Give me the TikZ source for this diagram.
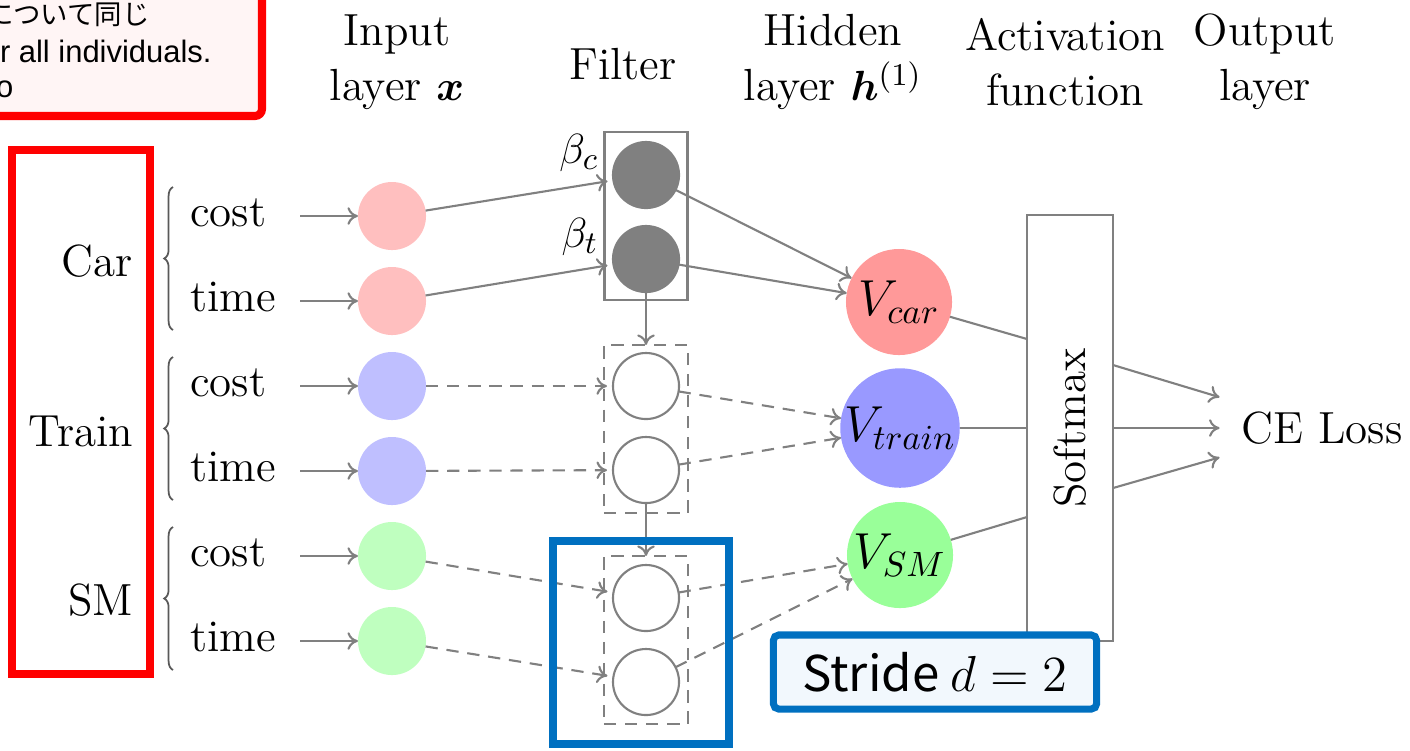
\documentclass[tikz,border=0pt]{standalone}
\usepackage{amsmath}
\usepackage{bm}
\usepackage{fontspec}
\usetikzlibrary{arrows.meta,decorations.pathreplacing,calc}
\newfontfamily\jpfont{Noto Sans CJK JP}
\newfontfamily\arialfont{Liberation Sans}
\definecolor{lnk}{HTML}{808080}
\definecolor{pptblue}{HTML}{0070C0}
\definecolor{notefill}{HTML}{FFF5F5}
\definecolor{stridefill}{HTML}{F2F8FD}
\begin{document}
\begin{tikzpicture}[x=0.01cm,y=-0.01cm,
  every node/.style={inner sep=0pt, outer sep=0pt},
  ttl/.style={font=\fontsize{12.8}{15.7}\selectfont, align=center},
  lbl/.style={font=\fontsize{12.8}{14}\selectfont},
  incirc/.style={circle, minimum size=0.68cm},
  fcirc/.style={circle, minimum size=0.66cm, draw=lnk, line width=0.6pt},
  vcirc/.style={circle, font=\fontsize{14}{16}\selectfont},
  conn/.style={draw=lnk, line width=0.6pt},
  arr/.style={conn, -{Computer Modern Rightarrow[length=3pt,width=5pt]}},
  darr/.style={arr, dash pattern=on 3.5pt off 2.5pt},
  dbox/.style={draw=lnk, line width=0.6pt, dash pattern=on 3.5pt off 2.5pt, minimum width=0.84cm, minimum height=1.68cm},
  grp/.style={decorate, decoration={brace, amplitude=2.5pt}, draw=black!65, line width=0.5pt},
]
\clip (0,0) rectangle (1410,750);

% note box (cropped)
\node[draw=red, fill=notefill, line width=2.3pt, rounded corners=2pt, minimum width=3.4cm, minimum height=1.8cm, anchor=south east] (note) at (262,116) {};
\node[anchor=west, font=\jpfont\fontsize{7.8}{9}\selectfont] (n1) at (-14,15) {について同じ};
\node[anchor=west, font=\arialfont\fontsize{8.8}{10}\selectfont] (n2) at (0,51) {r all individuals.};
\node[anchor=west, font=\arialfont\fontsize{8.8}{10}\selectfont] (n3) at (-4,89) {o};

% headers
\node[ttl] (hin) at (397,62) {Input\\layer $\bm{x}$};
\node[ttl] (hfil) at (623,64) {Filter};
\node[ttl] (hhid) at (833,62) {Hidden\\layer $\bm{h}^{(1)}$};
\node[ttl] (hact) at (1065,62) {Activation\\function};
\node[ttl] (hout) at (1265,62) {Output\\layer};

% group box and labels
\node[draw=red, line width=2.3pt, minimum width=1.375cm, minimum height=5.24cm] (grpbox) at (81,412) {};
\node[lbl, anchor=east] (lcar) at (133,261) {Car};
\node[lbl, anchor=east] (ltrain) at (133,431) {Train};
\node[lbl, anchor=east] (lsm) at (133,600) {SM};

\draw[grp] (173,330) -- (173,187);
\draw[grp] (173,500) -- (173,357);
\draw[grp] (173,670) -- (173,527);

\node[lbl, anchor=base west] (l1) at (190,226) {cost};
\node[lbl, anchor=base west] (l2) at (190,311) {time};
\node[lbl, anchor=base west] (l3) at (190,396) {cost};
\node[lbl, anchor=base west] (l4) at (190,481) {time};
\node[lbl, anchor=base west] (l5) at (190,566) {cost};
\node[lbl, anchor=base west] (l6) at (190,651) {time};

% input circles
\node[incirc, fill=red!25] (x1) at (392,216) {};
\node[incirc, fill=red!25] (x2) at (392,301) {};
\node[incirc, fill=blue!25] (x3) at (392,386) {};
\node[incirc, fill=blue!25] (x4) at (392,471) {};
\node[incirc, fill=green!25] (x5) at (392,556) {};
\node[incirc, fill=green!25] (x6) at (392,641) {};

\coordinate (a1) at (300,216);
\coordinate (a2) at (300,301);
\coordinate (a3) at (300,386);
\coordinate (a4) at (300,471);
\coordinate (a5) at (300,556);
\coordinate (a6) at (300,641);
\foreach \i in {1,...,6}{\draw[arr] (a\i) -- (x\i);}

% filter
\node[draw=lnk, line width=0.6pt, minimum width=0.83cm, minimum height=1.68cm] (fbox) at (646,216) {};
\node[fcirc, fill=black!50] (f1) at (646,175) {};
\node[fcirc, fill=black!50] (f2) at (646,259) {};
\node[dbox] (tbox) at (646,429) {};
\node[fcirc, fill=white] (g1) at (646,386) {};
\node[fcirc, fill=white] (g2) at (646,470) {};
\node[dbox] (sbox) at (646,640) {};
\node[fcirc, fill=white] (h1) at (646,598) {};
\node[fcirc, fill=white] (h2) at (646,682) {};

\node[lbl] (bc) at (579,153) {$\beta_c$};
\node[lbl] (bt) at (580,237) {$\beta_t$};

\draw[arr, shorten >=1.7pt] (x1) -- (f1);
\draw[arr, shorten >=1.7pt] (x2) -- (f2);
\draw[darr, shorten >=1.7pt] (x3) -- (g1);
\draw[darr, shorten >=1.7pt] (x4) -- (g2);
\draw[darr, shorten >=1.7pt] (x5) -- (h1);
\draw[darr, shorten >=1.7pt] (x6) -- (h2);

\draw[arr] (f2) -- (tbox.north);
\draw[arr] (g2) -- (sbox.north);

% hidden layer
\node[vcirc, fill=red!40, minimum size=1.06cm] (vcar) at (899,302) {$V_{car}$};
\node[vcirc, fill=blue!40, minimum size=1.13cm] (vtrain) at (900,428) {$V_{train}$};
\node[vcirc, fill=green!40, minimum size=1.06cm] (vsm) at (900,555) {$V_{SM}$};

\draw[arr] (f1) -- (vcar);
\draw[arr] (f2) -- (vcar);
\draw[darr] (g1) -- (vtrain);
\draw[darr] (g2) -- (vtrain);
\draw[darr] (h1) -- (vsm);
\draw[darr] (h2) -- (vsm);

% softmax
\node[draw=lnk, line width=0.6pt, minimum width=0.86cm, minimum height=4.25cm] (smx) at (1070,428) {};
\node[lbl, rotate=90] (smxt) at (1070,428) {Softmax};
\coordinate (si1) at (1027,339);
\coordinate (si2) at (1027,428);
\coordinate (si3) at (1027,517);
\draw[conn] (vcar) -- (si1);
\draw[conn] (vtrain) -- (si2);
\draw[conn] (vsm) -- (si3);

\node[lbl, inner xsep=0.22cm, minimum height=0.8cm] (ce) at (1322,428) {CE Loss};
\coordinate (so1) at (1113,365);
\coordinate (so2) at (1113,428);
\coordinate (so3) at (1113,488);
\draw[arr] (so1) -- (ce);
\draw[arr] (so2) -- (ce);
\draw[arr] (so3) -- (ce);

% overlays
\node[draw=pptblue, line width=2.3pt, minimum width=1.76cm, minimum height=2.03cm] (win) at (641,642.5) {};
\node[draw=pptblue, fill=stridefill, line width=2pt, rounded corners=1.5pt, minimum width=3.23cm, minimum height=0.74cm, font=\jpfont\fontsize{14}{16}\selectfont] (stride) at (935,672) {Stride $d=2$};
\end{tikzpicture}
\end{document}
